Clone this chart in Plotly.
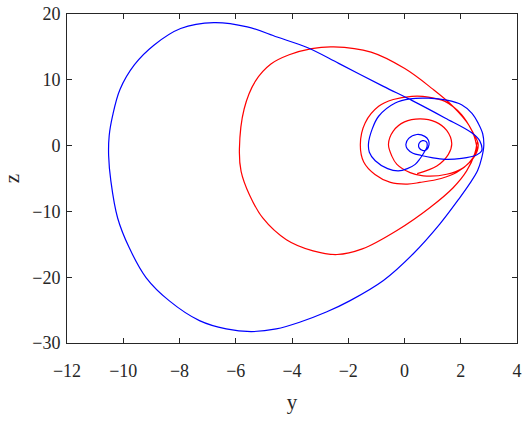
import plotly.graph_objects as go

# blue orbit (y, z)
blue_y = [0.97, 0.6, 0.3, 0.1, 0.05, 0.15, 0.44, 0.72, 0.85,
          0.87, 0.8, 0.66, 0.52, 0.52, 0.64, 0.78, 0.8, 0.7,
          0.55, 0.38, 0.1, -0.22, -0.6, -1.04, -1.25, -1.28, -1.15, -0.92,
          -0.33, 0.2, 0.85, 1.5, 2.03, 2.4, 2.62, 2.78, 2.82, 2.75,
          2.6, 2.3, 1.97, 1.26, 0.32, -0.75, -1.95, -2.78, -3.73, -4.56,
          -5.45, -6.34, -7.29, -8.36, -9.19, -9.79, -10.2, -10.44, -10.52,
          -10.5, -10.38, -10.12, -9.6, -8.9, -7.96, -6.78, -5.59, -4.53,
          -3.46, -2.34, -0.75, 0.26, 1.44, 2.39, 2.68, 2.74, 2.56, 2.03,
          1.44, 0.97]
blue_z = [-1.84, -1.5, -1.15, -0.5, 0.2, 1.1, 1.69, 1.4, 0.8,
          0.1, -0.55, -0.75, -0.35, 0.35, 0.75, 0.55, -0.2, -1.0,
          -2.0, -2.85, -3.5, -3.85, -3.5, -2.3, -1.0, 0.3, 2.5, 4.46,
          6.47, 7.1, 7.2, 6.9, 6.2, 4.9, 3.4, 1.8, 0.0, -1.8,
          -3.8, -5.9, -7.9, -11.9, -16.4, -20.5, -23.6, -25.3, -26.85, -27.86,
          -28.26, -27.86, -26.6, -23.6, -20.05, -15.5, -11.0, -5.4, -1.5,
          1.5, 4.5, 8.5, 12.3, 15.3, 17.8, 18.7, 18.05, 16.5,
          14.9, 12.5, 9.0, 6.87, 4.2, 1.94, 0.68, -0.83, -1.43, -1.95,
          -2.1, -1.84]

# red orbit (y, z)
red_y = [0.45, 1.15, 1.56, 1.68, 1.5, 1.1, 0.56, 0.0, -0.4, -0.57,
         -0.45, -0.27, 0.2, 0.67, 1.5, 2.09, 2.5, 2.62,
         2.44, 2.03, 1.44, 0.85, 0.26, -0.4, -0.92, -1.4, -1.57,
         -1.45, -1.05, -0.5, 0.1, 0.55, 1.3, 1.85, 2.3, 2.55, 2.56,
         2.29, 1.69, 0.97, 0.01, -1.19, -2.52, -3.3, -4.1, -4.75, -5.3, -5.7,
         -5.87, -5.81, -5.51, -5.04, -4.2, -3.25, -2.4, -1.5, -0.27, 0.91,
         1.73, 2.21, 2.5, 2.58]
red_z = [-4.25, -3.1, -1.33, 0.3, 2.3, 3.6, 4.05, 3.6, 2.2, 0.2,
         -1.6, -2.85, -4.1, -4.6, -4.36, -3.35, -1.59, 0.18,
         1.94, 4.7, 6.72, 7.38, 7.48, 7.0, 5.97, 3.45, 0.18,
         -2.5, -4.4, -5.6, -5.85, -5.6, -5.0, -4.1, -2.6, -0.8, 0.05,
         3.1, 6.1, 8.7, 11.7, 14.2, 15.0, 14.75, 13.8, 12.4, 9.8, 5.6,
         -0.5, -3.9, -7.5, -11.0, -14.3, -16.0, -16.55, -15.7, -12.9, -9.4,
         -6.4, -3.85, -1.2, 0.5]

x_ticks = [-12, -10, -8, -6, -4, -2, 0, 2, 4]
y_ticks = [-30, -20, -10, 0, 10, 20]

SERIF = 'Liberation Serif'
INK = '#262626'

fig = go.Figure()
fig.add_trace(go.Scatter(x=red_y, y=red_z, mode='lines',
                         line=dict(color='#ff0000', width=1.2, shape='spline', smoothing=1.0)))
fig.add_trace(go.Scatter(x=blue_y, y=blue_z, mode='lines',
                         line=dict(color='#0000ff', width=1.2, shape='spline', smoothing=1.0)))

axis_style = dict(
    showgrid=False, zeroline=False, showline=True, linecolor=INK, linewidth=1,
    mirror='ticks', ticks='inside', ticklen=5, tickcolor=INK, automargin=False,
    tickfont=dict(family=SERIF, size=18, color=INK),
)

fig.update_layout(
    width=530, height=421,
    margin=dict(l=67, r=13, t=14, b=78),
    paper_bgcolor='white', plot_bgcolor='white',
    showlegend=False,
    xaxis=dict(range=[-12, 4], tickvals=x_ticks, ticklabelstandoff=11,
               title=dict(text='y', font=dict(family=SERIF, size=21, color=INK),
                          standoff=14),
               **axis_style),
    yaxis=dict(range=[-30, 20], tickvals=y_ticks, ticklabelstandoff=2,
               title=dict(text='z', font=dict(family=SERIF, size=21, color=INK),
                          standoff=15),
               **axis_style),
)

# drop the browser's default 8px body margin so the figure fills the window
fig.write_html("out.html", config={'displayModeBar': False},
               post_script="document.body.style.margin = '0';")
